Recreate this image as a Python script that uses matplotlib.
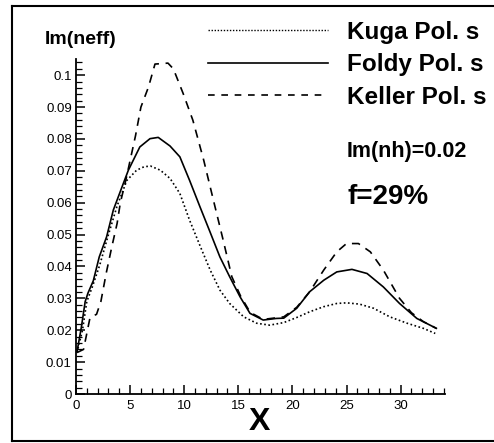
import numpy as np
import matplotlib
matplotlib.use('Agg')
import matplotlib.pyplot as plt
from matplotlib.ticker import MultipleLocator
from matplotlib.lines import Line2D

plt.rcParams['font.family'] = ['Liberation Sans', 'DejaVu Sans']

# DATA
kugaX = [0.1, 0.6, 1.0, 1.5, 2.2, 3.0, 3.8, 4.7, 5.6, 6.3, 6.9, 7.8, 8.7, 9.6, 10.5,
         11.5, 12.4, 13.3, 14.2, 15.5, 16.7, 17.9, 19.2, 20.4, 21.6, 22.9, 24.1,
         25.0, 26.2, 27.5, 29.0, 30.6, 32.1, 33.2]
kugaY = [0.013, 0.020, 0.029, 0.0335, 0.0405, 0.050, 0.059, 0.067, 0.0702, 0.0713,
         0.0715, 0.0702, 0.0676, 0.0629, 0.0545, 0.0462, 0.0389, 0.0326, 0.0284,
         0.0242, 0.0222, 0.0216, 0.0224, 0.0240, 0.0258, 0.0274, 0.0284, 0.0286,
         0.0282, 0.0269, 0.0242, 0.0222, 0.0206, 0.0190]

foldyX = [0.1, 0.5, 0.85, 1.1, 1.6, 2.15, 2.83, 3.45, 4.37, 4.84, 5.9, 6.84, 7.6,
          8.69, 9.6, 10.5, 11.46, 12.38, 13.3, 14.2, 15.16, 16.08, 17.3, 18.5, 19.2,
          20.4, 21.6, 22.9, 24.1, 25.5, 26.9, 28.4, 29.9, 31.5, 33.3]
foldyY = [0.0133, 0.021, 0.029, 0.0316, 0.0355, 0.043, 0.0493, 0.0577, 0.066,
          0.0702, 0.0775, 0.0801, 0.0805, 0.0778, 0.0744, 0.067, 0.0587, 0.0509,
          0.043, 0.0368, 0.0305, 0.0253, 0.0232, 0.0237, 0.0238, 0.0269, 0.0321,
          0.0357, 0.0383, 0.0391, 0.0378, 0.0336, 0.0284, 0.0237, 0.0206]

kellerX = [0.1, 0.7, 1.0, 1.3, 1.9, 2.3, 2.8, 3.3, 3.8, 4.1, 4.6, 5.5, 6.0, 6.7,
           7.3, 8.5, 9.0, 9.9, 10.8, 11.8, 12.7, 13.6, 14.4, 15.2, 16.1, 17.3, 18.5,
           19.2, 20.4, 21.6, 22.9, 24.1, 25.0, 26.1, 27.2, 28.4, 29.9, 31.0, 32.1, 33.3]
kellerY = [0.013, 0.014, 0.019, 0.024, 0.025, 0.029, 0.038, 0.046, 0.0535, 0.060,
           0.067, 0.081, 0.090, 0.0963, 0.1035, 0.1038, 0.102, 0.0943, 0.0859,
           0.0734, 0.0608, 0.0483, 0.0368, 0.0308, 0.0256, 0.0234, 0.0239, 0.0242,
           0.0272, 0.0321, 0.0389, 0.0446, 0.0472, 0.0472, 0.0446, 0.0389, 0.030,
           0.0255, 0.0227, 0.0206]

labels = ["Kuga Pol. s", "Foldy Pol. s", "Keller Pol. s"]

# FIGURE
fig = plt.figure(figsize=(4.94, 4.43), dpi=100)
ax = fig.add_axes([0.1538, 0.1106, 0.747, 0.757])

ax.plot(kugaX, kugaY, color='k', lw=1.2, linestyle=(0, (1, 1.5)))
ax.plot(foldyX, foldyY, color='k', lw=1.2, linestyle='-')
ax.plot(kellerX, kellerY, color='k', lw=1.2, linestyle=(0, (5, 4)))

ax.set_xlim(0, 34.1)
ax.set_ylim(0, 0.1052)
ax.spines['top'].set_visible(False)
ax.spines['right'].set_visible(False)
ax.spines['left'].set_linewidth(1.3)
ax.spines['bottom'].set_linewidth(1.3)

ax.xaxis.set_major_locator(MultipleLocator(5))
ax.xaxis.set_minor_locator(MultipleLocator(1))
ax.yaxis.set_major_locator(MultipleLocator(0.01))
ax.yaxis.set_minor_locator(MultipleLocator(0.002))
ax.tick_params(which='both', direction='in', labelsize=9.5, width=1.1)
ax.tick_params(which='major', length=6.5)
ax.tick_params(which='minor', length=4, width=0.9)
ax.tick_params(axis='y', pad=3)
ax.tick_params(axis='x', pad=4)
ax.set_xticks([0, 5, 10, 15, 20, 25, 30])
ax.set_xticklabels(['0', '5', '10', '15', '20', '25', '30'])
ax.set_yticks([0, 0.01, 0.02, 0.03, 0.04, 0.05, 0.06, 0.07, 0.08, 0.09, 0.1])
ax.set_yticklabels(['0', '0.01', '0.02', '0.03', '0.04', '0.05', '0.06', '0.07',
                    '0.08', '0.09', '0.1'])

# LEGEND
handles = [Line2D([], [], color='k', lw=1.0, linestyle=(0, (1, 1.2))),
           Line2D([], [], color='k', lw=1.2, linestyle='-'),
           Line2D([], [], color='k', lw=1.2, linestyle=(0, (4, 4)))]
fig.legend(handles, labels, loc='upper left', bbox_to_anchor=(208/494, 1 - 21/443),
           frameon=False, prop={'weight': 'bold', 'size': 17.5}, handlelength=4.95,
           handletextpad=0.78, labelspacing=0.39, borderpad=0, borderaxespad=0)

# TEXTS
fig.text(45/494, 1 - 40/443, "Im(neff)", fontsize=14, fontweight='bold', va='center')
fig.text(347/494, 1 - 152/443, "Im(nh)=0.02", fontsize=15.5, fontweight='bold', va='center')
fig.text(347/494, 1 - 197/443, "f=29%", fontsize=20, fontweight='bold', va='center')
fig.text(259/494, 1 - 422/443, "X", fontsize=23, fontweight='bold', va='center', ha='center')

# OUTER FRAME
fig.add_artist(Line2D([12/494, 12/494], [1 - 441/443, 1 - 6/443], color='k', lw=1.5))
fig.add_artist(Line2D([12/494, 1.0], [1 - 6/443, 1 - 6/443], color='k', lw=1.5))
fig.add_artist(Line2D([12/494, 1.0], [1 - 441/443, 1 - 441/443], color='k', lw=1.5))

fig.savefig('out.png', dpi=100)
